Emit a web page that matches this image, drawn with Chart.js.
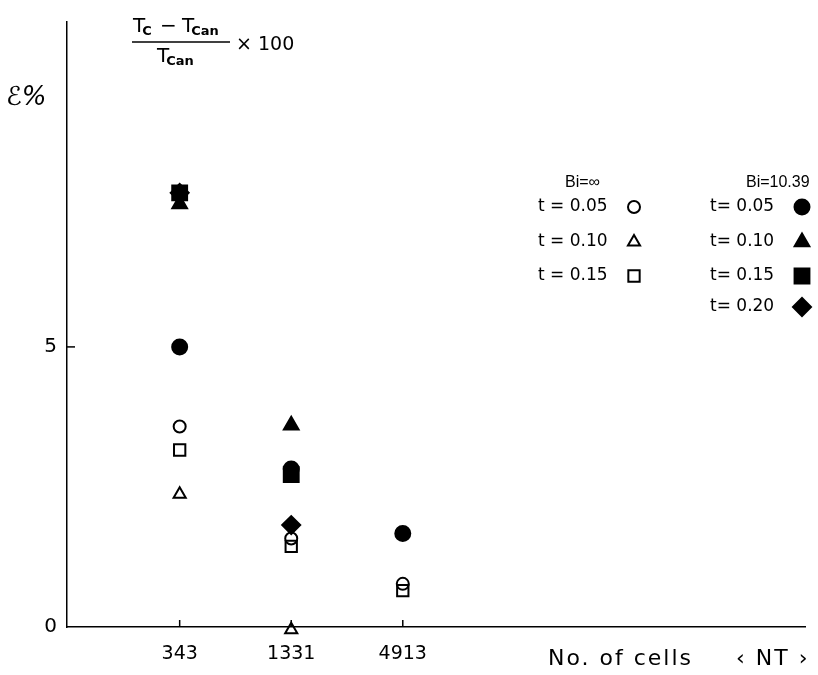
<!DOCTYPE html>
<html>
<head>
<meta charset="utf-8">
<script src="https://cdn.jsdelivr.net/npm/chart.js@4/dist/chart.umd.min.js"></script>
<style>
  body { margin: 0; background: #fff; }
  #wrap { width: 818px; height: 675px; position: relative; }
</style>
</head>
<body>
<div id="wrap"><canvas id="errChart"></canvas></div>
<script>
// categories on the x axis (number of cells NT)
const cells = ['343', '1331', '4913'];
const yTicks = [0, 5];

// Bi = infinity (open markers)
const infT005 = [3.58, 1.58, 0.77];
const infT010 = [2.37, -0.05, null];
const infT015 = [3.16, 1.44, 0.65];

// Bi = 10.39 (filled markers)
const biT005 = [5.0, 2.82, 1.67];
const biT010 = [7.55, 3.6, null];
const biT015 = [7.75, 2.72, null];
const biT020 = [7.75, 1.82, null];

const FONT = '"DejaVu Sans", "Liberation Sans", sans-serif';

function toPoints(values) {
    return values.map((v, i) => v === null ? null : { x: i, y: v }).filter(p => p);
}

function makeSet(label, values, style, filled, radius) {
    return {
        label: label,
        data: toPoints(values),
        pointStyle: style,
        pointRadius: radius,
        pointBorderWidth: 2,
        borderColor: '#000',
        pointBorderColor: '#000',
        pointBackgroundColor: filled ? '#000' : 'rgba(255,255,255,0)',
        backgroundColor: filled ? '#000' : 'rgba(255,255,255,0)',
        showLine: false,
        clip: false
    };
}

const datasets = [
    makeSet('Bi=inf t=0.05', infT005, 'circle', false, 6),
    makeSet('Bi=inf t=0.10', infT010, 'triangle', false, 7),
    makeSet('Bi=inf t=0.15', infT015, 'rect', false, 8),
    makeSet('Bi=10.39 t=0.05', biT005, 'circle', true, 7.5),
    makeSet('Bi=10.39 t=0.10', biT010, 'triangle', true, 8.5),
    makeSet('Bi=10.39 t=0.15', biT015, 'rect', true, 10.5),
    makeSet('Bi=10.39 t=0.20', biT020, 'rectRot', true, 9)
];

// inward tick marks, formula, axis label and the legend block
const decorations = {
    id: 'decorations',
    afterDraw(chart) {
        const ctx = chart.ctx;
        const xs = chart.scales.x;
        const ys = chart.scales.y;
        const area = chart.chartArea;
        ctx.save();
        ctx.strokeStyle = '#000';
        ctx.fillStyle = '#000';
        ctx.lineWidth = 1.5;

        // small ticks pointing into the plot
        [0, 1, 2].forEach(i => {
            const px = xs.getPixelForValue(i);
            ctx.beginPath();
            ctx.moveTo(px, area.bottom);
            ctx.lineTo(px, area.bottom - 7);
            ctx.stroke();
        });
        const p5 = ys.getPixelForValue(5);
        ctx.beginPath();
        ctx.moveTo(area.left, p5);
        ctx.lineTo(area.left + 8, p5);
        ctx.stroke();

        // y axis label
        ctx.font = 'italic 26px ' + FONT;
        ctx.textBaseline = 'middle';
        ctx.textAlign = 'left';
        ctx.fillText('\u2130%', 6, 98);

        // formula (Tc - Tcan) / Tcan x 100
        function tSub(x, y, sub) {
            ctx.font = '20px ' + FONT;
            ctx.fillText('T', x, y);
            const w = ctx.measureText('T').width;
            ctx.font = 'bold 13px ' + FONT;
            ctx.fillText(sub, x + w - 3, y + 5);
            return x + w - 3 + ctx.measureText(sub).width;
        }
        ctx.textBaseline = 'middle';
        tSub(133, 27, 'C');
        ctx.font = '20px ' + FONT;
        ctx.fillText('\u2212', 160, 27);
        tSub(182, 27, 'Can');
        ctx.lineWidth = 1.4;
        ctx.beginPath();
        ctx.moveTo(132, 42);
        ctx.lineTo(230, 42);
        ctx.stroke();
        tSub(157, 57, 'Can');
        ctx.font = '19px ' + FONT;
        ctx.fillText('\u00d7 100', 236, 45);

        // x axis title
        ctx.font = '22px ' + FONT;
        ctx.letterSpacing = '2px';
        ctx.fillText('No. of cells', 548, 659);
        ctx.fillText('\u2039 NT \u203a', 736, 659);
        ctx.letterSpacing = '0px';

        // legend
        ctx.font = '16px "Liberation Sans", sans-serif';
        ctx.fillText('Bi=\u221e', 565, 183);
        ctx.fillText('Bi=10.39', 746, 183);
        const rows = [207, 242, 276, 307];
        const leftLabels = ['t = 0.05', 't = 0.10', 't = 0.15'];
        const rightLabels = ['t= 0.05', 't= 0.10', 't= 0.15', 't= 0.20'];
        const left = datasets.slice(0, 3);
        const right = datasets.slice(3);
        ctx.font = '17px ' + FONT;
        left.forEach((ds, i) => {
            ctx.fillStyle = '#000';
            ctx.fillText(leftLabels[i], 538, rows[i]);
            ctx.lineWidth = ds.pointBorderWidth;
            ctx.fillStyle = ds.pointBackgroundColor;
            Chart.helpers.drawPoint(ctx, { pointStyle: ds.pointStyle, radius: ds.pointRadius, rotation: 0, borderWidth: 2 }, 634, rows[i]);
        });
        right.forEach((ds, i) => {
            ctx.fillStyle = '#000';
            ctx.fillText(rightLabels[i], 710, rows[i]);
            ctx.lineWidth = ds.pointBorderWidth;
            ctx.fillStyle = ds.pointBackgroundColor;
            Chart.helpers.drawPoint(ctx, { pointStyle: ds.pointStyle, radius: ds.pointRadius, rotation: 0, borderWidth: 2 }, 802, rows[i]);
        });
        ctx.restore();
    }
};

new Chart(document.getElementById('errChart').getContext('2d'), {
    type: 'scatter',
    data: { datasets: datasets },
    options: {
        responsive: true,
        maintainAspectRatio: false,
        animation: false,
        layout: { padding: { top: 10, right: 12, left: 0, bottom: 0 } },
        plugins: { legend: { display: false }, tooltip: { enabled: false } },
        scales: {
            x: {
                type: 'linear',
                min: -1.01,
                max: 5.61,
                afterFit: s => { s.height = 48; },
                afterBuildTicks: s => { s.ticks = cells.map((c, i) => ({ value: i })); },
                grid: { display: false, drawTicks: false },
                border: { display: true, color: '#000', width: 1.5 },
                ticks: {
                    color: '#000',
                    padding: 16,
                    font: { family: FONT, size: 19 },
                    callback: v => cells[v]
                }
            },
            y: {
                min: 0,
                max: 10.8,
                afterFit: s => { s.width = 67; },
                afterBuildTicks: s => { s.ticks = yTicks.map(v => ({ value: v })); },
                grid: { display: false, drawTicks: false },
                border: { display: true, color: '#000', width: 1.5 },
                ticks: {
                    color: '#000',
                    padding: 10,
                    font: { family: FONT, size: 20 }
                }
            }
        }
    },
    plugins: [decorations]
});
</script>
</body>
</html>
